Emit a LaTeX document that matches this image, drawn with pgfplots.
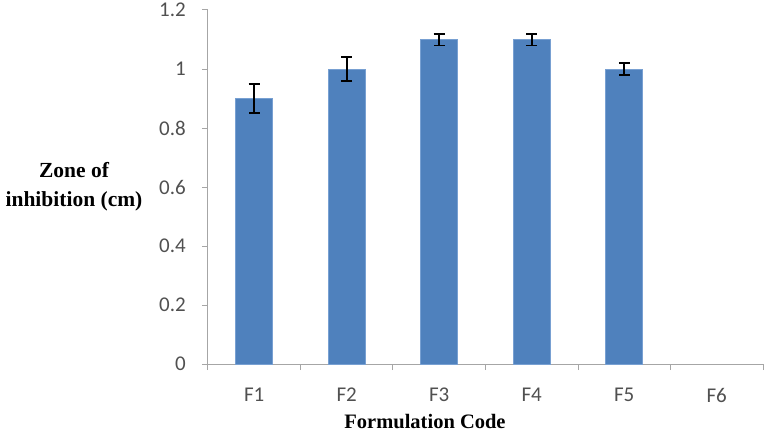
\documentclass[border=0pt]{standalone}
\usepackage{fontspec}
\setmainfont{Liberation Serif}
\newfontfamily\calibri{Carlito}
\usepackage{pgfplots}
\pgfplotsset{compat=1.18}
\definecolor{barblue}{RGB}{79,129,189}
\definecolor{baredge}{RGB}{120,160,210}
\definecolor{axgray}{RGB}{166,166,166}
\definecolor{txtgray}{RGB}{80,80,80}
\begin{document}
\begin{tikzpicture}
\useasboundingbox (-208pt,-73pt) rectangle (559pt,364pt);
\begin{axis}[
  at={(0,0)}, anchor=south west,
  scale only axis, width=555pt, height=354pt,
  xmin=-0.5, xmax=5.5, ymin=0, ymax=1.2,
  axis x line*=bottom, axis y line*=left,
  axis line style={axgray, line width=1pt},
  xtick={0,...,5}, xticklabels={F1,F2,F3,F4,F5,F6},
  major x tick style={draw=none},
  minor xtick={-0.5,0.5,...,5.5},
  minor x tick style={axgray, line width=1pt},
  ytick={0,0.2,...,1.2},
  y tick style={axgray, line width=1pt},
  tick align=outside, major tick length=6pt, minor tick length=6pt,
  /pgf/number format/assume math mode=true,
  ticklabel style={font=\calibri\fontsize{21}{24}\selectfont, text=txtgray},
  yticklabel style={anchor=east, inner sep=0pt, xshift=-16pt},
  xticklabel style={anchor=north, inner sep=0pt, yshift=-18pt},
  yticklabel={\pgfmathprintnumber[fixed,precision=1]{\tick}},
  xlabel={Formulation Code},
  ylabel={Zone of\\inhibition (cm)},
  every axis x label/.style={at={(rel axis cs:0,0)}, xshift=217pt, yshift=-58pt, anchor=center, font=\bfseries\fontsize{20.5}{22}\selectfont},
  every axis y label/.style={at={(rel axis cs:0,0.5)}, xshift=-134pt, anchor=center, align=center, font=\bfseries\fontsize{21.5}{29}\selectfont},
  clip=false,
]
\addplot[ybar, bar width=0.4, fill=barblue, draw=baredge, line width=0.8pt,
  error bars/.cd, y dir=both, y explicit,
  error bar style={black, line width=1.8pt},
  error mark options={black, line width=1.8pt, mark size=5.5pt, rotate=90}]
  coordinates {
  (0,0.9) +- (0,0.05)
  (1,1.0) +- (0,0.04)
  (2,1.1) +- (0,0.02)
  (3,1.1) +- (0,0.02)
  (4,1.0) +- (0,0.02)
  };
\end{axis}
\end{tikzpicture}
\end{document}
